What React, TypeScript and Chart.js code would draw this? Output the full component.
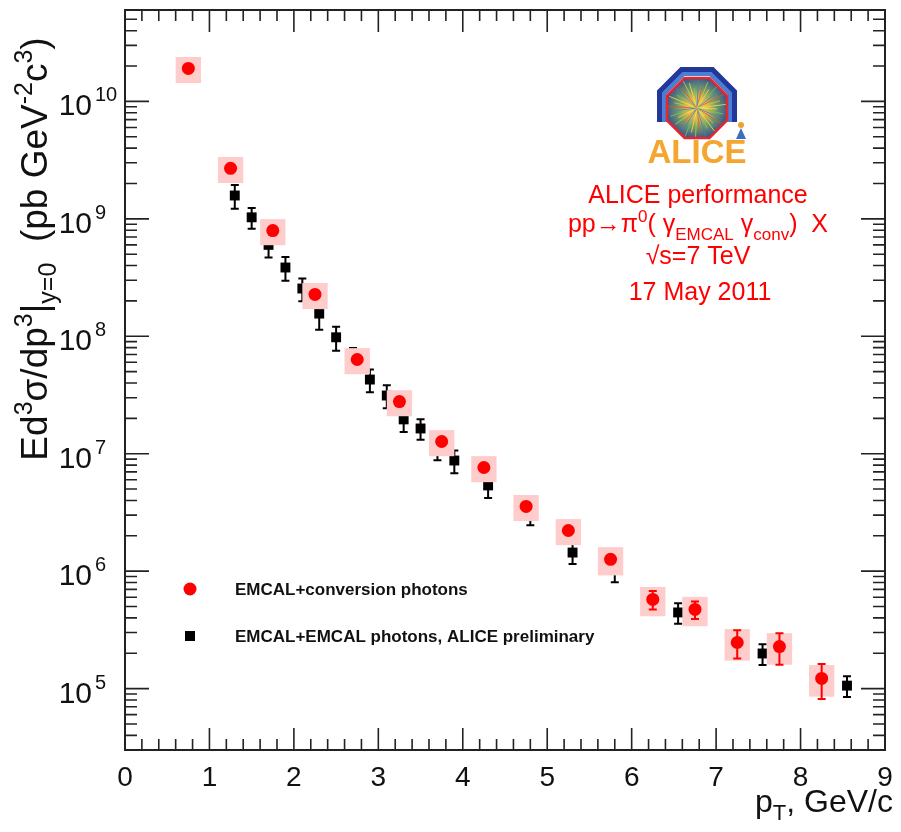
import React, { useEffect, useRef } from 'react';
import { Chart, registerables } from 'chart.js';

Chart.register(...registerables);

// ---- data: EMCAL + conversion photons (red) ----
const convPt = [0.75, 1.25, 1.75, 2.25, 2.75, 3.25, 3.75, 4.25, 4.75, 5.25, 5.75, 6.25, 6.75, 7.25, 7.75, 8.25];
const convY = [1.91e10, 2.69e9, 7.95e8, 2.27e8, 6.34e7, 2.78e7, 1.27e7, 7.63e6, 3.56e6, 2.22e6, 1.26e6, 5.74e5, 4.72e5, 2.47e5, 2.28e5, 1.22e5];
const convStat = [0.02, 0.02, 0.02, 0.02, 0.02, 0.03, 0.03, 0.03, 0.03, 0.03, 0.04, 0.18, 0.17, 0.27, 0.3, 0.33];
const convSys = [0.25, 0.25, 0.25, 0.25, 0.25, 0.25, 0.25, 0.25, 0.25, 0.25, 0.27, 0.28, 0.28, 0.3, 0.3, 0.3];
const convBinHalf = 0.15;

// ---- data: EMCAL + EMCAL photons (black) ----
const emcPt = [1.3, 1.5, 1.7, 1.9, 2.1, 2.3, 2.5, 2.7, 2.9, 3.1, 3.3, 3.5, 3.7, 3.9, 4.3, 4.8, 5.3, 5.8, 6.55, 7.55, 8.55];
const emcY = [1.58e9, 1.03e9, 6.0e8, 3.85e8, 2.55e8, 1.56e8, 9.8e7, 6.5e7, 4.28e7, 3.13e7, 1.96e7, 1.64e7, 1.13e7, 8.75e6, 5.37e6, 3.16e6, 1.44e6, 1.03e6, 4.45e5, 1.99e5, 1.06e5];
const emcErr = [0.23, 0.2, 0.22, 0.23, 0.22, 0.27, 0.23, 0.22, 0.22, 0.22, 0.22, 0.2, 0.22, 0.22, 0.22, 0.22, 0.2, 0.22, 0.2, 0.2, 0.2];

// ---- axes ----
const xMin = 0;
const xMax = 9;
const xTickLabels = ['0', '1', '2', '3', '4', '5', '6', '7', '8', '9'];
const yMin = 3e4;
const yMax = 6e10;
const yDecades = [5, 6, 7, 8, 9, 10];

const seriesLabels = ['EMCAL+conversion photons', 'EMCAL+EMCAL photons, ALICE preliminary'];
const infoLines = ['ALICE performance', '√s=7 TeV', '17 May 2011'];

const FAM = '"Liberation Sans", Arial, Helvetica, sans-serif';

type Seg = { t: string; s: number; dy?: number; bold?: boolean };

function richWidth(ctx: CanvasRenderingContext2D, segs: Seg[]) {
  let w = 0;
  for (const sg of segs) {
    ctx.font = `${sg.bold ? 'bold ' : ''}${sg.s}px ${FAM}`;
    w += ctx.measureText(sg.t).width;
  }
  return w;
}

function drawRich(ctx: CanvasRenderingContext2D, segs: Seg[], x: number, y: number, align: 'left' | 'center' | 'right') {
  const w = richWidth(ctx, segs);
  let cx = align === 'left' ? x : align === 'center' ? x - w / 2 : x - w;
  ctx.textAlign = 'left';
  ctx.textBaseline = 'alphabetic';
  for (const sg of segs) {
    ctx.font = `${sg.bold ? 'bold ' : ''}${sg.s}px ${FAM}`;
    ctx.fillText(sg.t, cx, y + (sg.dy || 0));
    cx += ctx.measureText(sg.t).width;
  }
}

function octPath(ctx: CanvasRenderingContext2D, cx: number, cy: number, apothem: number) {
  const R = apothem / Math.cos(Math.PI / 8);
  for (let k = 0; k < 8; k++) {
    const a = Math.PI / 8 + (k * Math.PI) / 4;
    const px = cx + R * Math.cos(a);
    const py = cy + R * Math.sin(a);
    if (k === 0) ctx.moveTo(px, py);
    else ctx.lineTo(px, py);
  }
  ctx.closePath();
}

function drawLogo(ctx: CanvasRenderingContext2D) {
  const cx = 697;
  const cy = 108;
  ctx.save();
  ctx.save();
  ctx.beginPath();
  ctx.rect(cx - 50, cy - 50, 100, 64);
  ctx.clip();
  ctx.beginPath();
  octPath(ctx, cx, cy - 1, 40);
  octPath(ctx, cx, cy - 1, 31);
  ctx.fillStyle = '#23379a';
  ctx.fill('evenodd');
  ctx.beginPath();
  octPath(ctx, cx, cy - 1, 35);
  octPath(ctx, cx, cy - 1, 31);
  ctx.fillStyle = '#4b7fd6';
  ctx.fill('evenodd');
  ctx.restore();
  ctx.beginPath();
  octPath(ctx, cx, cy, 30);
  const g = ctx.createRadialGradient(cx, cy, 1, cx, cy, 32);
  g.addColorStop(0, '#fff27a');
  g.addColorStop(0.3, '#e8b84a');
  g.addColorStop(0.6, '#6e9a6a');
  g.addColorStop(1, '#3a4d8c');
  ctx.fillStyle = g;
  ctx.fill();
  ctx.save();
  ctx.clip();
  const cols = ['#f4e04a', '#7bc36a', '#4a78c8', '#e2562e', '#c8c84a'];
  for (let k = 0; k < 36; k++) {
    const a = (k * Math.PI * 2) / 36 + 0.05;
    const len = 20 + ((k * 7) % 13);
    ctx.strokeStyle = cols[k % cols.length];
    ctx.lineWidth = 0.8;
    ctx.beginPath();
    ctx.moveTo(cx, cy);
    ctx.lineTo(cx + len * Math.cos(a), cy + len * Math.sin(a));
    ctx.stroke();
  }
  ctx.restore();
  ctx.beginPath();
  octPath(ctx, cx, cy, 30);
  ctx.strokeStyle = '#e3262f';
  ctx.lineWidth = 2.5;
  ctx.stroke();
  ctx.fillStyle = '#f0a030';
  ctx.beginPath();
  ctx.arc(741, 125, 3, 0, Math.PI * 2);
  ctx.fill();
  ctx.fillStyle = '#3a6fc0';
  ctx.beginPath();
  ctx.moveTo(741, 128);
  ctx.lineTo(746, 139);
  ctx.lineTo(736, 139);
  ctx.closePath();
  ctx.fill();
  ctx.fillStyle = '#f4a630';
  ctx.font = `bold 33px ${FAM}`;
  ctx.textAlign = 'center';
  ctx.textBaseline = 'alphabetic';
  ctx.fillText('ALICE', cx, 163);
  ctx.restore();
}

const errPlugin = {
  id: 'errPlugin',
  beforeDatasetDraw(chart: any, args: any) {
    const ctx: CanvasRenderingContext2D = chart.ctx;
    const xs = chart.scales.x;
    const ys = chart.scales.y;
    ctx.save();
    if (args.index === 1) {
      ctx.strokeStyle = '#000';
      ctx.lineWidth = 2;
      emcPt.forEach((x, i) => {
        const px = xs.getPixelForValue(x);
        const y1 = ys.getPixelForValue(emcY[i] * (1 + emcErr[i]));
        const y2 = ys.getPixelForValue(emcY[i] * (1 - emcErr[i]));
        ctx.beginPath();
        ctx.moveTo(px, y1);
        ctx.lineTo(px, y2);
        ctx.moveTo(px - 4, y1);
        ctx.lineTo(px + 4, y1);
        ctx.moveTo(px - 4, y2);
        ctx.lineTo(px + 4, y2);
        ctx.stroke();
      });
    } else if (args.index === 0) {
      ctx.fillStyle = '#ffcccc';
      convPt.forEach((x, i) => {
        const x1 = xs.getPixelForValue(x - convBinHalf);
        const x2 = xs.getPixelForValue(x + convBinHalf);
        const y1 = ys.getPixelForValue(convY[i] * (1 + convSys[i]));
        const y2 = ys.getPixelForValue(convY[i] * (1 - convSys[i]));
        ctx.fillRect(x1, y1, x2 - x1, y2 - y1);
      });
      ctx.strokeStyle = '#ff0000';
      ctx.lineWidth = 2;
      convPt.forEach((x, i) => {
        const px = xs.getPixelForValue(x);
        const y1 = ys.getPixelForValue(convY[i] * (1 + convStat[i]));
        const y2 = ys.getPixelForValue(convY[i] * (1 - convStat[i]));
        ctx.beginPath();
        ctx.moveTo(px, y1);
        ctx.lineTo(px, y2);
        ctx.moveTo(px - 4, y1);
        ctx.lineTo(px + 4, y1);
        ctx.moveTo(px - 4, y2);
        ctx.lineTo(px + 4, y2);
        ctx.stroke();
      });
    }
    ctx.restore();
  },
};

const framePlugin = {
  id: 'framePlugin',
  afterDraw(chart: any) {
    const ctx: CanvasRenderingContext2D = chart.ctx;
    const { left, right, top, bottom } = chart.chartArea;
    const xs = chart.scales.x;
    const ys = chart.scales.y;
    ctx.save();
    ctx.strokeStyle = '#222';
    ctx.lineWidth = 2;
    ctx.strokeRect(left, top, right - left, bottom - top);

    ctx.lineWidth = 1.6;
    ctx.beginPath();
    for (let k = 0; k <= 45; k++) {
      const v = xMin + k * 0.2;
      if (v > xMax + 1e-9) break;
      const px = xs.getPixelForValue(v);
      const major = k % 5 === 0;
      const len = major ? 22 : 11;
      ctx.moveTo(px, bottom);
      ctx.lineTo(px, bottom - len);
      ctx.moveTo(px, top);
      ctx.lineTo(px, top + len);
    }
    for (let d = 4; d <= 10; d++) {
      for (let m = 1; m <= 9; m++) {
        const v = m * Math.pow(10, d);
        if (v < yMin * 0.999 || v > yMax * 1.001) continue;
        const py = ys.getPixelForValue(v);
        const len = m === 1 ? 24 : 12;
        ctx.moveTo(left, py);
        ctx.lineTo(left + len, py);
        ctx.moveTo(right, py);
        ctx.lineTo(right - len, py);
      }
    }
    ctx.stroke();

    // x labels
    ctx.fillStyle = '#111';
    ctx.font = `28px ${FAM}`;
    ctx.textAlign = 'center';
    ctx.textBaseline = 'alphabetic';
    xTickLabels.forEach((lab, i) => {
      ctx.fillText(lab, xs.getPixelForValue(i), 786);
    });

    // y labels
    yDecades.forEach((d) => {
      const py = ys.getPixelForValue(Math.pow(10, d));
      ctx.font = `30px ${FAM}`;
      ctx.textAlign = 'right';
      ctx.fillText('10', 92, py + 14);
      ctx.font = `20px ${FAM}`;
      ctx.textAlign = 'left';
      ctx.fillText(String(d), 95, py);
    });

    // x title
    drawRich(ctx, [
      { t: 'p', s: 32 },
      { t: 'T', s: 22, dy: 8 },
      { t: ', GeV/c', s: 32 },
    ], 893, 812, 'right');

    // y title (rotated)
    ctx.save();
    ctx.translate(47, 249);
    ctx.rotate(-Math.PI / 2);
    drawRich(ctx, [
      { t: 'Ed', s: 37 },
      { t: '3', s: 25, dy: -15 },
      { t: 'σ/dp', s: 37 },
      { t: '3', s: 25, dy: -15 },
      { t: '|', s: 37 },
      { t: 'y=0', s: 25, dy: 9 },
      { t: '  (pb GeV', s: 37 },
      { t: '-2', s: 25, dy: -15 },
      { t: 'c', s: 37 },
      { t: '3', s: 25, dy: -15 },
      { t: ')', s: 37 },
    ], 0, 0, 'center');
    ctx.restore();

    // legend
    ctx.fillStyle = '#ff0000';
    ctx.beginPath();
    ctx.arc(190, 589, 6.5, 0, Math.PI * 2);
    ctx.fill();
    ctx.fillStyle = '#000';
    ctx.fillRect(185, 631, 10, 10);
    ctx.fillStyle = '#111';
    ctx.font = `bold 17px ${FAM}`;
    ctx.textAlign = 'left';
    ctx.fillText(seriesLabels[0], 235, 595);
    ctx.fillText(seriesLabels[1], 235, 642);

    drawLogo(ctx);

    // red annotation
    ctx.fillStyle = '#ff0000';
    ctx.font = `25px ${FAM}`;
    ctx.textAlign = 'center';
    ctx.fillText(infoLines[0], 698, 203);
    drawRich(ctx, [
      { t: 'pp→π', s: 25 },
      { t: '0', s: 17, dy: -10 },
      { t: '( γ', s: 25 },
      { t: 'EMCAL', s: 17, dy: 8 },
      { t: ' γ', s: 25 },
      { t: 'conv', s: 17, dy: 8 },
      { t: ')  X', s: 25 },
    ], 698, 232, 'center');
    ctx.textAlign = 'center';
    ctx.font = `25px ${FAM}`;
    ctx.fillText(infoLines[1], 698, 264);
    ctx.fillText(infoLines[2], 700, 300);
    ctx.restore();
  },
};

export default function App() {
  const ref = useRef<HTMLCanvasElement | null>(null);
  useEffect(() => {
    document.body.style.margin = '0';
    const canvas = ref.current;
    if (!canvas) return;
    const chart = new Chart(canvas, {
      type: 'scatter',
      data: {
        datasets: [
          {
            label: seriesLabels[0],
            data: convPt.map((x, i) => ({ x, y: convY[i] })),
            pointStyle: 'circle',
            pointRadius: 6.5,
            backgroundColor: '#ff0000',
            borderWidth: 0,
            order: 0,
          },
          {
            label: seriesLabels[1],
            data: emcPt.map((x, i) => ({ x, y: emcY[i] })),
            pointStyle: 'rect',
            pointRadius: 7,
            backgroundColor: '#000000',
            borderWidth: 0,
            order: 1,
          },
        ],
      },
      options: {
        responsive: false,
        animation: false,
        devicePixelRatio: 1,
        layout: { padding: { left: 125, right: 16, top: 10, bottom: 82 } },
        scales: {
          x: { type: 'linear', min: xMin, max: xMax, display: false },
          y: { type: 'logarithmic', min: yMin, max: yMax, display: false },
        },
        plugins: { legend: { display: false }, tooltip: { enabled: false } },
      },
      plugins: [errPlugin, framePlugin],
    } as any);
    return () => chart.destroy();
  }, []);
  return (
    <div style={{ width: 901, height: 832, background: '#fff', overflow: 'hidden' }}>
      <canvas ref={ref} width={901} height={832} style={{ display: 'block' }} />
    </div>
  );
}
